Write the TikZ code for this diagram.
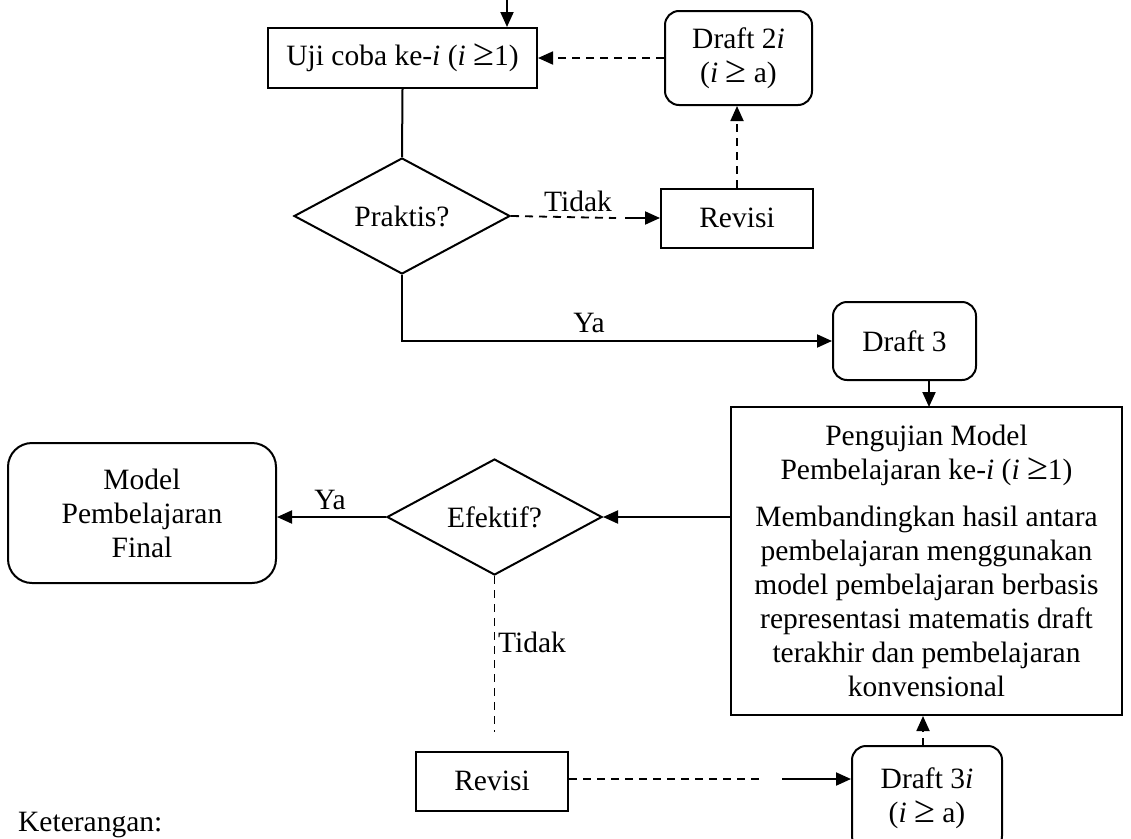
\documentclass[tikz,border=0pt]{standalone}
\usepackage{fontspec}
\setmainfont{Liberation Serif}
\usetikzlibrary{shapes.geometric,arrows.meta}
% a larger greater-or-equal sign
\newcommand{\gesym}{{\fontsize{38}{34}\selectfont ≥}}
\begin{document}
\begin{tikzpicture}[x=1pt,y=-1pt,
  every node/.style={font=\fontsize{29.5}{34}\selectfont},
  boxn/.style={draw,line width=2pt,inner sep=0pt,align=center},
  roundn/.style={boxn,rounded corners=14pt},
  decn/.style={boxn,diamond,shape aspect=1.86},
  flow/.style={line width=2pt},
  tip/.style={-{Triangle[length=15pt,width=13pt]}},
  dashline/.style={line width=1.8pt,dash pattern=on 8pt off 6pt},
  lbl/.style={inner sep=0pt}
]
% page
\fill[white] (0,0) rectangle (1131,838);
\useasboundingbox (0,0) rectangle (1131,838);
\begin{scope}
\clip (0,0) rectangle (1131,838);

% upper loop: trial and practicality check
\node[boxn,minimum width=269pt,minimum height=60pt] (uji) at (402.5,58)
  {Uji coba ke-\textit{i} (\textit{i} \gesym1)};
\node[roundn,minimum width=147pt,minimum height=94pt] (d2) at (738.5,58)
  {Draft 2\textit{i}\\(\textit{i} \gesym{} a)};
\node[decn,minimum width=216pt,minimum height=116pt] (prak) at (402,216) {Praktis?};
\node[boxn,minimum width=152pt,minimum height=59pt] (rev1) at (737,218) {Revisi};
\node[roundn,minimum width=143pt,minimum height=78pt] (d3) at (904.5,341) {Draft 3};

% lower loop: effectiveness test
\node[boxn,minimum width=391pt,minimum height=308pt] (peng) at (926.5,561)
  {Pengujian Model\\Pembelajaran ke-\textit{i} (\textit{i} \gesym1)\\[13pt]
   Membandingkan hasil antara\\pembelajaran menggunakan\\model pembelajaran berbasis\\
   representasi matematis draft\\terakhir dan pembelajaran\\konvensional};
\node[decn,minimum width=215pt,minimum height=116pt] (efek) at (494.5,517) {Efektif?};
\node[boxn,rounded corners=24pt,minimum width=268pt,minimum height=140pt] (model) at (142,513)
  {Model\\Pembelajaran\\Final};
\node[boxn,minimum width=152pt,minimum height=59pt] (rev2) at (492,781) {Revisi};
\node[roundn,minimum width=150pt,minimum height=104pt] (d3i) at (927,798)
  {Draft 3\textit{i}\\(\textit{i} \gesym{} a)};
\node[lbl,anchor=west] (ket) at (18,825) {Keterangan:};

% helper points
\coordinate (topin) at (507,0);
\coordinate (t1a) at (616,218);
\coordinate (t1b) at (625,218);
\coordinate (yacorner) at (402,341);
\coordinate (d3in) at (929,407);
\coordinate (t2end) at (494.5,732);
\coordinate (b1a) at (764,779);
\coordinate (b1b) at (782,779);
\coordinate (d3iout) at (923,746);

% connectors
\draw[flow,tip] (topin) -- (topin |- uji.north);
\draw[dashline,tip] (d2.west) -- (uji.east);
\draw[flow] (uji.south) -- (prak.north);
\draw[dashline] (prak.east) -- (t1a);
\draw[flow,tip] (t1b) -- (rev1.west);
\node[lbl] (tidak1) at (578,201) {Tidak};
\draw[dashline,tip] (rev1.north) -- (rev1.north |- d2.south);
\draw[flow,tip] (prak.south) -- (yacorner) -- (d3.west);
\node[lbl] (ya1) at (589,323) {Ya};
\draw[flow,tip] (d3.south -| d3in) -- (d3in);
\draw[flow,tip] (peng.west |- efek.east) -- (efek.east);
\draw[flow,tip] (efek.west) -- (model.east |- efek.west);
\node[lbl] (ya2) at (330,500) {Ya};
\draw[dashline] (efek.south) -- (t2end);
\node[lbl,anchor=west] (tidak2) at (498,642) {Tidak};
\draw[dashline] (rev2.east |- b1a) -- (b1a);
\draw[flow,tip] (b1b) -- (d3i.west |- b1b);
\draw[dashline,tip] (d3iout) -- (d3iout |- peng.south);
\end{scope}
\end{tikzpicture}
\end{document}
